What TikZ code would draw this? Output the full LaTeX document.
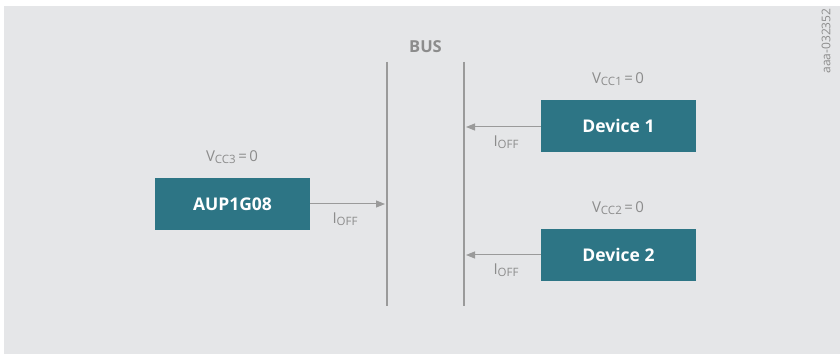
\documentclass[tikz,border=0pt]{standalone}
\usepackage{fontspec}
\setmainfont{Open Sans}
\usetikzlibrary{arrows.meta}
\definecolor{bg}{HTML}{E5E6E8}
\definecolor{teal}{HTML}{2D7585}
\definecolor{txt}{HTML}{8C8C8C}
\definecolor{ln}{HTML}{9A9A9A}
\newcommand\subx[1]{\raisebox{-0.25ex}{\fontsize{11.5}{13}\selectfont #1}}
\tikzset{
  dev/.style={fill=teal, minimum width=155pt, minimum height=52pt, inner sep=0pt, text=white, font=\fontsize{17.5}{20}\selectfont\bfseries},
  lbl/.style={text=txt, font=\fontsize{15}{17}\selectfont, inner sep=0pt},
  busline/.style={draw=ln, line width=1.3pt},
  arr/.style={draw=ln, line width=1pt, -{Triangle[length=9pt,width=7pt]}}
}
\begin{document}
\begin{tikzpicture}[x=1pt,y=-1pt]
\useasboundingbox (0,0) rectangle (840,355);
\fill[bg] (4,6) rectangle (840,354);
\coordinate (b1t) at (387,62); \coordinate (b1b) at (387,306);
\coordinate (b2t) at (464,62); \coordinate (b2b) at (464,306);
\draw[busline] (b1t) -- (b1b);
\draw[busline] (b2t) -- (b2b);
\node[lbl, font=\fontsize{16.5}{19}\selectfont\bfseries] (bus) at (425.5,47) {BUS};
\node[dev] (aup) at (232.5,204) {AUP1G08};
\node[dev] (d1) at (618.5,126) {Device 1};
\node[dev] (d2) at (618.5,255) {Device 2};
\node[lbl] (v3) at (232,157) {V\subx{CC3}\,=\,0};
\node[lbl] (v1) at (618,79) {V\subx{CC1}\,=\,0};
\node[lbl] (v2) at (618,208) {V\subx{CC2}\,=\,0};
\coordinate (a3) at (385,204);
\coordinate (a1) at (466,127);
\coordinate (a2) at (466,255);
\draw[arr] (aup.east |- a3) -- (a3);
\draw[arr] (d1.west |- a1) -- (a1);
\draw[arr] (d2.west |- a2) -- (a2);
\node[lbl] (i3) at (345,219) {I\subx{OFF}};
\node[lbl] (i1) at (506,142) {I\subx{OFF}};
\node[lbl] (i2) at (506,270) {I\subx{OFF}};
\node[lbl, rotate=90, font=\fontsize{12}{14}\selectfont] (id) at (826,41) {aaa-032352};
\end{tikzpicture}
\end{document}
